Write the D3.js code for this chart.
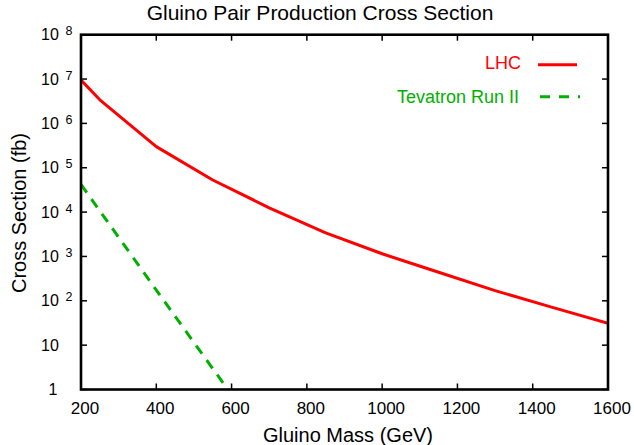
<!DOCTYPE html>
<html>
<head>
<meta charset="utf-8">
<script src="https://cdn.jsdelivr.net/npm/d3@7"></script>
<style>
  html, body { margin: 0; padding: 0; background: #fff; }
  svg { display: block; font-family: "Liberation Sans", Arial, Helvetica, sans-serif; }
</style>
</head>
<body>
<svg id="chart" width="634" height="445"></svg>
<script>
// ---- data ----
const lhcMass = [200, 250, 400, 550, 700, 850, 1000, 1150, 1300, 1450, 1600];
const lhcXsec = [9.5e6, 3.4e6, 3.0e5, 5.3e4, 1.25e4, 3.4e3, 1.15e3, 440, 170, 72, 31];
const tevMass = [200, 300, 400, 500, 590];
const tevXsec = [4.2e4, 2.7e3, 1.75e2, 11.5, 1.0];
const xTicks = [200, 400, 600, 800, 1000, 1200, 1400, 1600];
const yTickExps = [0, 1, 2, 3, 4, 5, 6, 7, 8];
const seriesNames = ["LHC", "Tevatron Run II"];
const titleText = "Gluino Pair Production Cross Section";
const xLabel = "Gluino Mass (GeV)";
const yLabel = "Cross Section (fb)";

// ---- layout ----
const L = 81, R = 608, T = 34.7, B = 389.5;
const svg = d3.select("#chart");
const x = d3.scaleLinear().domain([200, 1600]).range([L, R]);
const y = d3.scaleLog().domain([1, 1e8]).range([B, T]);

const red = "#ff0000", green = "#00b000";

svg.append("defs").append("clipPath").attr("id", "clip")
  .append("rect").attr("x", L).attr("y", T).attr("width", R - L).attr("height", B - T);

// ---- ticks (inward, mirrored) ----
const tickLen = 6;
const tickG = svg.append("g").attr("stroke", "#000").attr("stroke-width", 1.5);
xTicks.forEach(v => {
  tickG.append("line").attr("x1", x(v)).attr("x2", x(v)).attr("y1", B).attr("y2", B - tickLen);
  tickG.append("line").attr("x1", x(v)).attr("x2", x(v)).attr("y1", T).attr("y2", T + tickLen);
});
yTickExps.forEach(e => {
  const v = Math.pow(10, e);
  tickG.append("line").attr("x1", L).attr("x2", L + tickLen).attr("y1", y(v)).attr("y2", y(v));
  tickG.append("line").attr("x1", R).attr("x2", R - tickLen).attr("y1", y(v)).attr("y2", y(v));
});

// ---- curves ----
const line = d3.line().x(d => x(d[0])).y(d => y(d[1]));
const lhcData = lhcMass.map((m, i) => [m, lhcXsec[i]]);
const tevData = tevMass.map((m, i) => [m, tevXsec[i]]);
const curves = svg.append("g").attr("clip-path", "url(#clip)");
curves.append("path").datum(lhcData).attr("d", line)
  .attr("fill", "none").attr("stroke", red).attr("stroke-width", 3).attr("stroke-linejoin", "round");
curves.append("path").datum(tevData).attr("d", line)
  .attr("fill", "none").attr("stroke", green).attr("stroke-width", 3).attr("stroke-dasharray", "10,8");

// ---- border ----
svg.append("rect").attr("x", L).attr("y", T).attr("width", R - L).attr("height", B - T)
  .attr("fill", "none").attr("stroke", "#000").attr("stroke-width", 2.6);

// ---- x tick labels ----
svg.append("g").selectAll("text").data(xTicks).join("text")
  .attr("x", d => x(d) + 4).attr("y", 414)
  .attr("text-anchor", "middle").attr("font-size", 17).attr("fill", "#000")
  .text(d => d);

// ---- y tick labels ----
const yl = svg.append("g").attr("fill", "#000");
yTickExps.forEach(e => {
  const ty = y(Math.pow(10, e));
  if (e === 0) {
    yl.append("text").attr("x", 48.5).attr("y", ty + 5.5).attr("font-size", 16).text("1");
  } else if (e === 1) {
    yl.append("text").attr("x", 41).attr("y", ty + 5.5).attr("font-size", 16).text("10");
  } else {
    yl.append("text").attr("x", 41).attr("y", ty + 5.5).attr("font-size", 16).text("10");
    yl.append("text").attr("x", 65.5).attr("y", ty + 0.5).attr("font-size", 12.5).text(e);
  }
});

// ---- titles ----
svg.append("text").attr("x", 320).attr("y", 20).attr("text-anchor", "middle")
  .attr("font-size", 21).attr("fill", "#000").text(titleText);
svg.append("text").attr("x", 348).attr("y", 442).attr("text-anchor", "middle")
  .attr("font-size", 20).attr("fill", "#000").text(xLabel);
svg.append("text").attr("transform", "translate(25.5,213) rotate(-90)").attr("text-anchor", "middle")
  .attr("font-size", 20).attr("fill", "#000").text(yLabel);

// ---- legend ----
const leg = svg.append("g");
leg.append("text").attr("x", 521).attr("y", 69.3).attr("text-anchor", "end")
  .attr("font-size", 18).attr("fill", red).text(seriesNames[0]);
leg.append("line").attr("x1", 538).attr("x2", 577).attr("y1", 64.7).attr("y2", 64.7)
  .attr("stroke", red).attr("stroke-width", 3);
leg.append("text").attr("x", 519).attr("y", 103).attr("text-anchor", "end")
  .attr("font-size", 18).attr("fill", green).text(seriesNames[1]);
leg.append("line").attr("x1", 540).attr("x2", 580).attr("y1", 96.7).attr("y2", 96.7)
  .attr("stroke", green).attr("stroke-width", 3).attr("stroke-dasharray", "10,9");
</script>
</body>
</html>
